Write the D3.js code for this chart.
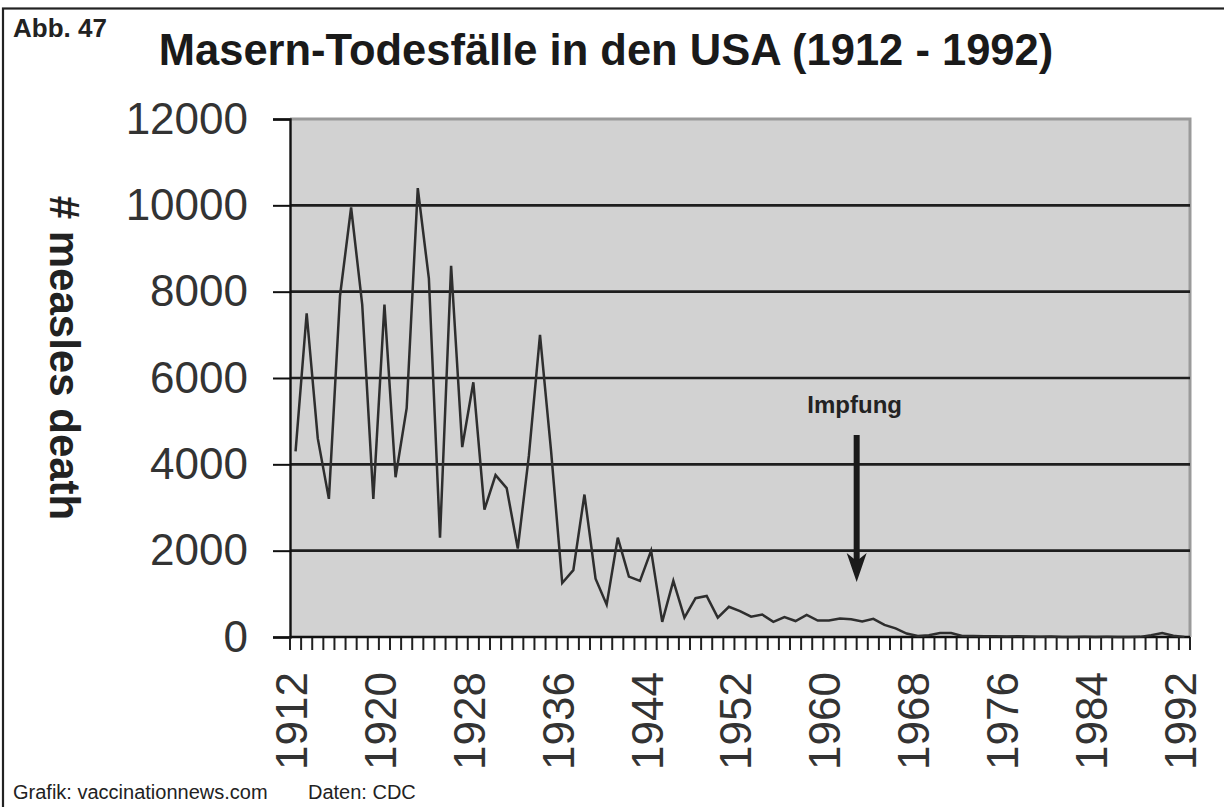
<!DOCTYPE html>
<html>
<head>
<meta charset="utf-8">
<script src="https://cdn.jsdelivr.net/npm/d3@7/dist/d3.min.js"></script>
<style>
  html, body { margin: 0; padding: 0; background: #fff; }
  svg { display: block; font-family: "Liberation Sans", Arial, Helvetica, sans-serif; }
</style>
</head>
<body>
<svg id="chart" width="1224" height="807"></svg>
<script>
// ---- Data ----
const years = d3.range(1912, 1993);
const deaths = [
  4300, 7500, 4600, 3200, 7900, 9950, 7700, 3200, 7700, 3700,   // 1912-1921
  5300, 10400, 8300, 2300, 8600, 4400, 5900, 2950, 3750, 3450,  // 1922-1931
  2050, 4200, 7000, 4300, 1250, 1550, 3300, 1350, 750, 2300,    // 1932-1941
  1400, 1300, 2000, 350, 1300, 450, 900, 950, 450, 700,         // 1942-1951
  600, 470, 520, 350, 460, 370, 510, 380, 380, 430,             // 1952-1961
  410, 360, 420, 280, 200, 80, 25, 40, 90, 90,                  // 1962-1971
  25, 25, 20, 20, 12, 15, 11, 6, 11, 2,                         // 1972-1981
  2, 4, 1, 4, 2, 2, 3, 40, 90, 30,                              // 1982-1991
  3                                                             // 1992
];
const yTicks = [0, 2000, 4000, 6000, 8000, 10000, 12000];
const xLabelYears = [1912, 1920, 1928, 1936, 1944, 1952, 1960, 1968, 1976, 1984, 1992];
const titleText = "Masern-Todesfälle in den USA (1912 - 1992)";
const figLabel = "Abb. 47";
const yTitle = "# measles death";
const annotationText = "Impfung";
const annotationYear = 1962.5;
const footerLeft = "Grafik: vaccinationnews.com";
const footerRight = "Daten: CDC";

// ---- Layout ----
const svg = d3.select("#chart");
const plot = { left: 290, right: 1190, top: 119, bottom: 637 };

const x = d3.scaleBand().domain(years).range([plot.left, plot.right]).padding(0);
const y = d3.scaleLinear().domain([0, 12000]).range([plot.bottom, plot.top]);
const xc = yr => x(yr) + x.bandwidth() / 2;

// Outer frame (extends beyond the picture on the right and bottom)
svg.append("rect")
  .attr("x", 3).attr("y", 8.5)
  .attr("width", 1240).attr("height", 820)
  .attr("fill", "none").attr("stroke", "#222").attr("stroke-width", 2.2);

// Figure label and title
svg.append("text").attr("x", 13).attr("y", 37)
  .attr("font-size", 26).attr("font-weight", "bold").attr("fill", "#222")
  .text(figLabel);
svg.append("text").attr("x", 606).attr("y", 65)
  .attr("text-anchor", "middle")
  .attr("font-size", 43.5).attr("font-weight", "bold").attr("fill", "#1a1a1a")
  .text(titleText);

// Plot background
svg.append("rect")
  .attr("x", plot.left).attr("y", plot.top)
  .attr("width", plot.right - plot.left).attr("height", plot.bottom - plot.top)
  .attr("fill", "#d2d2d2");

// Plot border (top/right gray)
svg.append("path")
  .attr("d", `M${plot.left},${plot.top}H${plot.right}V${plot.bottom}`)
  .attr("fill", "none").attr("stroke", "#9a9a9a").attr("stroke-width", 3);

// Gridlines
svg.append("g").selectAll("line")
  .data(yTicks.filter(t => t > 0 && t < 12000))
  .join("line")
  .attr("x1", plot.left).attr("x2", plot.right)
  .attr("y1", d => y(d)).attr("y2", d => y(d))
  .attr("stroke", "#1e1e1e").attr("stroke-width", 2.6);

// Y axis
const yAxis = svg.append("g")
  .attr("transform", `translate(${plot.left},0)`)
  .call(d3.axisLeft(y).tickValues(yTicks).tickSize(17).tickPadding(25).tickFormat(d3.format("d")));
yAxis.select(".domain").attr("stroke", "#111").attr("stroke-width", 2.4);
yAxis.selectAll(".tick line").attr("stroke", "#111").attr("stroke-width", 2);
yAxis.selectAll(".tick text")
  .attr("font-size", 44).attr("fill", "#333")
  .attr("font-family", "'Liberation Sans', Arial, sans-serif");

// Y title
svg.append("text")
  .attr("transform", "translate(65,358) rotate(90)")
  .attr("text-anchor", "middle").attr("dy", "0.35em")
  .attr("font-size", 42).attr("font-weight", "bold").attr("fill", "#222")
  .text(yTitle);

// X axis: ticks at every category boundary
const boundaries = years.map(yr => x(yr)).concat([plot.right]);
svg.append("g").selectAll("line")
  .data(boundaries)
  .join("line")
  .attr("x1", d => d).attr("x2", d => d)
  .attr("y1", plot.bottom).attr("y2", plot.bottom + 13)
  .attr("stroke", "#222").attr("stroke-width", 2);
svg.append("line")
  .attr("x1", plot.left).attr("x2", plot.right)
  .attr("y1", plot.bottom).attr("y2", plot.bottom)
  .attr("stroke", "#111").attr("stroke-width", 2.6);

// X labels (rotated, reading bottom to top)
svg.append("g").selectAll("text")
  .data(xLabelYears)
  .join("text")
  .attr("transform", d => `translate(${xc(d) - 4},672) rotate(-90)`)
  .attr("text-anchor", "end").attr("dy", "0.35em")
  .attr("font-size", 44).attr("fill", "#333")
  .text(d => d);

// Data line
const line = d3.line()
  .x((d, i) => xc(years[i]))
  .y(d => y(d));
svg.append("path")
  .datum(deaths)
  .attr("d", line)
  .attr("fill", "none")
  .attr("stroke", "#2e2e2e")
  .attr("stroke-width", 2.5)
  .attr("stroke-linejoin", "miter");

// Annotation: Impfung + arrow
const ax = x(Math.floor(annotationYear)) + x.bandwidth() * (annotationYear - Math.floor(annotationYear)) + x.bandwidth() / 2;
svg.append("text")
  .attr("x", ax - 2).attr("y", 413)
  .attr("text-anchor", "middle")
  .attr("font-size", 24).attr("font-weight", "bold").attr("fill", "#222")
  .text(annotationText);
svg.append("line")
  .attr("x1", ax).attr("x2", ax)
  .attr("y1", 435).attr("y2", 562)
  .attr("stroke", "#1a1a1a").attr("stroke-width", 6);
svg.append("path")
  .attr("d", `M${ax},582 L${ax - 10},553 L${ax},561 L${ax + 10},553 Z`)
  .attr("fill", "#1a1a1a");

// Footer
svg.append("text").attr("x", 13).attr("y", 799)
  .attr("font-size", 20).attr("fill", "#222").text(footerLeft);
svg.append("text").attr("x", 308).attr("y", 799)
  .attr("font-size", 20).attr("fill", "#222").text(footerRight);
</script>
</body>
</html>
